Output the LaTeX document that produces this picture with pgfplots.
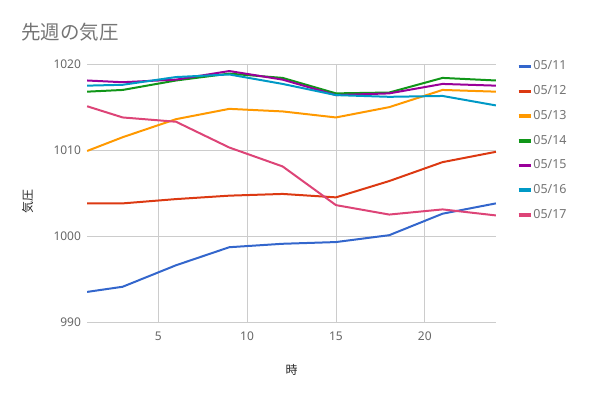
\documentclass[border=0pt]{standalone}
\usepackage{pgfplots}
\pgfplotsset{compat=1.18}
\usepackage{fontspec}
\setmainfont{Noto Sans}
\newfontfamily\cjk{Noto Sans CJK JP}
\definecolor{c1}{HTML}{3366CC}
\definecolor{c2}{HTML}{DC3912}
\definecolor{c3}{HTML}{FF9900}
\definecolor{c4}{HTML}{109618}
\definecolor{c5}{HTML}{990099}
\definecolor{c6}{HTML}{0099C6}
\definecolor{c7}{HTML}{DD4477}
\definecolor{titlegray}{HTML}{757575}
\definecolor{tickgray}{HTML}{666666}
\definecolor{leggray}{HTML}{757575}
\definecolor{gridgray}{HTML}{CCCCCC}
\begin{document}
\begin{tikzpicture}
\draw[white] (0pt,0pt) rectangle (591pt,397pt);
\node[anchor=base west, inner sep=0pt, font=\cjk\fontsize{19.5}{19.5}\selectfont, text=titlegray] at (21pt,358pt) {先週の気圧};
\begin{axis}[
  at={(87pt,75pt)}, anchor=south west,
  width=409pt, height=258pt, scale only axis,
  xmin=1, xmax=24, ymin=990, ymax=1020,
  xtick={5,10,15,20}, ytick={990,1000,1010,1020},
  axis line style={draw=none},
  major tick length=0pt,
  grid=major,
  major grid style={gridgray, line width=0.8pt},
  tick label style={font=\fontsize{12}{12}\selectfont, text=tickgray},
  /pgf/number format/assume math mode=true,
  /pgf/number format/1000 sep={},
  yticklabel style={inner sep=0pt, anchor=east, xshift=-6pt},
  xticklabel style={inner sep=0pt, anchor=north, yshift=-10pt},
  xlabel={\cjk 時},
  ylabel={\cjk 気圧},
  xlabel style={at={(axis description cs:0.5,-0.186)}, anchor=center, font=\fontsize{12}{12}\selectfont, text=black!85},
  ylabel style={at={(axis description cs:-0.1455,0.469)}, anchor=center, font=\fontsize{12}{12}\selectfont, text=black!85},
  legend style={draw=none, at={(1.051,1.017)}, anchor=north west,
    font=\fontsize{12.5}{12.5}\selectfont, text=leggray,
    row sep=11.2pt, inner sep=0pt,
    nodes={inner sep=1pt, text height=9pt, text depth=2.5pt}},
  legend cell align=left,
  legend image code/.code={\draw[line width=3.5pt, line cap=butt] (0pt,0pt) -- (12pt,0pt);},
  every axis plot/.append style={line width=2pt, line join=round},
  clip=false,
]
\addplot[c1] coordinates {(1,993.5)(3,994.1)(6,996.6)(9,998.7)(12,999.1)(15,999.3)(18,1000.1)(21,1002.6)(24,1003.8)};
\addlegendentry{05/11}
\addplot[c2] coordinates {(1,1003.8)(3,1003.8)(6,1004.3)(9,1004.7)(12,1004.9)(15,1004.5)(18,1006.4)(21,1008.6)(24,1009.8)};
\addlegendentry{05/12}
\addplot[c3] coordinates {(1,1009.9)(3,1011.5)(6,1013.6)(9,1014.8)(12,1014.5)(15,1013.8)(18,1015.0)(21,1017.0)(24,1016.8)};
\addlegendentry{05/13}
\addplot[c4] coordinates {(1,1016.8)(3,1017.0)(6,1018.1)(9,1018.9)(12,1018.4)(15,1016.6)(18,1016.7)(21,1018.4)(24,1018.1)};
\addlegendentry{05/14}
\addplot[c5] coordinates {(1,1018.1)(3,1017.9)(6,1018.2)(9,1019.2)(12,1018.2)(15,1016.4)(18,1016.6)(21,1017.7)(24,1017.5)};
\addlegendentry{05/15}
\addplot[c6] coordinates {(1,1017.5)(3,1017.6)(6,1018.5)(9,1018.8)(12,1017.7)(15,1016.4)(18,1016.2)(21,1016.3)(24,1015.2)};
\addlegendentry{05/16}
\addplot[c7] coordinates {(1,1015.1)(3,1013.8)(6,1013.3)(9,1010.3)(12,1008.1)(15,1003.6)(18,1002.5)(21,1003.1)(24,1002.4)};
\addlegendentry{05/17}
\end{axis}
\end{tikzpicture}
\end{document}
